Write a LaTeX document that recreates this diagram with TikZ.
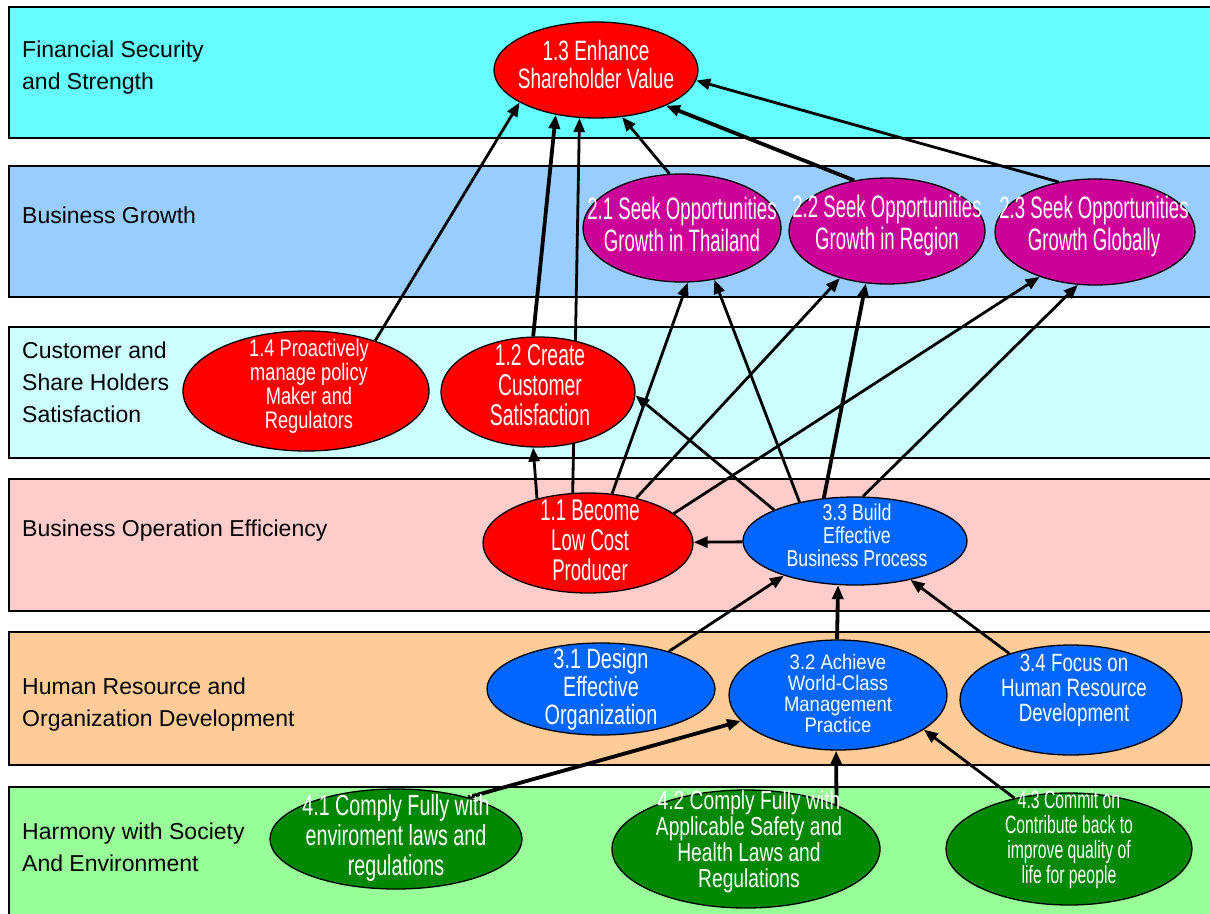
\documentclass[tikz,border=0pt]{standalone}
\usepackage{fontspec}
\setmainfont{Liberation Sans}
\usetikzlibrary{arrows.meta,shapes.geometric}
\pgfdeclarelayer{bg}
\pgfdeclarelayer{edges}
\pgfsetlayers{bg,edges,main}
\definecolor{bandA}{HTML}{66FFFF}
\definecolor{bandB}{HTML}{99CCFF}
\definecolor{bandC}{HTML}{CCFFFF}
\definecolor{bandD}{HTML}{FFCCCC}
\definecolor{bandE}{HTML}{FFCC99}
\definecolor{bandF}{HTML}{99FF99}
\definecolor{ovRed}{HTML}{FF0000}
\definecolor{ovMag}{HTML}{CC0099}
\definecolor{ovBlue}{HTML}{0066FF}
\definecolor{ovGreen}{HTML}{008800}
\newcommand\ofont[3]{\fontspec[FakeStretch=#1]{Liberation Sans}\fontsize{#2}{#3}\selectfont}
\tikzset{
  band/.style={draw=black, line width=1.3pt},
  bandlabel/.style={anchor=west, align=left, font=\fontsize{23}{32}\selectfont, inner sep=0pt},
  oval/.style={ellipse, draw=black, line width=1.3pt, inner sep=0pt},
  otext/.style={text=white, align=center, inner sep=0pt},
  link/.style={draw=black, line width=2.8pt, -{Triangle[length=14pt,width=11pt]}},
  biglink/.style={link, line width=3.8pt},
}
\begin{document}
\begin{tikzpicture}[x=1pt,y=-1pt]
\useasboundingbox (0,0) rectangle (1210,913);
\begin{pgfonlayer}{bg}
  \fill[white] (0,0) rectangle (1210,913);
  \draw[band, fill=bandA] (9,7) rectangle (1222,138);
  \draw[band, fill=bandB] (9,166) rectangle (1222,297);
  \draw[band, fill=bandC] (9,327) rectangle (1222,458);
  \draw[band, fill=bandD] (9,479) rectangle (1222,611);
  \draw[band, fill=bandE] (9,632) rectangle (1222,765);
  \draw[band, fill=bandF] (9,787) rectangle (1222,925);
\end{pgfonlayer}
% band labels
\node[bandlabel] (lab1) at (22,68) {Financial Security\\and Strength};
\node[bandlabel] (lab2) at (22,215) {Business Growth};
\node[bandlabel] (lab3) at (22,382) {Customer and\\Share Holders\\Satisfaction};
\node[bandlabel] (lab4) at (22,531) {Business Operation Efficiency};
\node[bandlabel] (lab5) at (22,705) {Human Resource and\\Organization Development};
\node[bandlabel] (lab6) at (22,847) {Harmony with Society\\And Environment};
% ellipses
\node[oval, fill=ovRed, minimum width=204pt, minimum height=96pt] (e13) at (596,70) {};
\node[oval, fill=ovMag, minimum width=198pt, minimum height=108pt] (e21) at (682,228) {};
\node[oval, fill=ovMag, minimum width=196pt, minimum height=106pt] (e22) at (887,231) {};
\node[oval, fill=ovMag, minimum width=200pt, minimum height=106pt] (e23) at (1095,232) {};
\node[oval, fill=ovRed, minimum width=246pt, minimum height=120pt] (e14) at (306,391) {};
\node[oval, fill=ovRed, minimum width=194pt, minimum height=110pt] (e12) at (538,392) {};
\node[oval, fill=ovRed, minimum width=210pt, minimum height=100pt] (e11) at (588,543) {};
\node[oval, fill=ovBlue, minimum width=224pt, minimum height=88pt] (e33) at (855,541) {};
\node[oval, fill=ovBlue, minimum width=228pt, minimum height=92pt] (e31) at (601,689) {};
\node[oval, fill=ovBlue, minimum width=218pt, minimum height=110pt] (e32) at (838,695) {};
\node[oval, fill=ovBlue, minimum width=222pt, minimum height=110pt] (e34) at (1071,700) {};
\node[oval, fill=ovGreen, minimum width=252pt, minimum height=100pt] (e41) at (396,839) {};
\node[oval, fill=ovGreen, minimum width=268pt, minimum height=118pt] (e42) at (746,849) {};
\node[oval, fill=ovGreen, minimum width=246pt, minimum height=112pt] (e43) at (1069,849) {};
% ellipse texts
\node[otext, font={\ofont{0.68}{28}{28}}] (t13) at (596,64) {1.3 Enhance\\Shareholder Value};
\node[otext, font={\ofont{0.6}{31}{32}}] (t21) at (682,224) {2.1 Seek Opportunities\\Growth in Thailand};
\node[otext, font={\ofont{0.6}{31}{32}}] (t22) at (887,225) {2.2 Seek Opportunities\\Growth in Region};
\node[otext, font={\ofont{0.6}{31}{32}}] (t23) at (1094,226) {2.3 Seek Opportunities\\Growth Globally};
\node[otext, font={\ofont{0.76}{24}{24}}] (t14) at (309,386) {1.4 Proactively\\manage policy\\Maker and\\Regulators};
\node[otext, font={\ofont{0.645}{30}{30}}] (t12) at (540,385) {1.2 Create\\Customer\\Satisfaction};
\node[otext, font={\ofont{0.62}{30}{30}}] (t11) at (590,540) {1.1 Become\\Low Cost\\Producer};
\node[otext, font={\ofont{0.77}{23}{23}}] (t33) at (857,535) {3.3 Build\\Effective\\Business Process};
\node[otext, font={\ofont{0.71}{28}{28}}] (t31) at (601,689) {3.1 Design\\Effective\\Organization};
\node[otext, font={\ofont{0.88}{21}{21}}] (t32) at (838,693) {3.2 Achieve\\World-Class\\Management\\Practice};
\node[otext, font={\ofont{0.75}{25}{25}}] (t34) at (1074,690) {3.4 Focus on\\Human Resource\\Development};
\node[otext, font={\ofont{0.68}{29}{30}}] (t41) at (396,838) {4.1 Comply Fully with\\enviroment laws and\\regulations};
\node[otext, font={\ofont{0.74}{26}{26}}] (t42) at (749,842) {4.2 Comply Fully with\\Applicable Safety and\\Health Laws and\\Regulations};
\node[otext, font={\ofont{0.63}{25}{25}}] (t43) at (1069,840) {4.3 Commit on\\Contribute back to\\improve quality of\\life for people};
% connectors
\begin{pgfonlayer}{edges}
  \draw[link] (e14.36) -- (e13.203);
  \draw[biglink] (e12.95) -- (e13.228);
  \draw[link] (e11.107) -- (e13.251);
  \draw[link] (e11.139) -- (e12.265);
  \draw[link] (e21.103) -- (e13.299);
  \draw[biglink] (e22.123) -- (e13.333);
  \draw[link] (e23.126) -- (e13.354);
  \draw[link] (e11.64) -- (e21.276);
  \draw[link] (e11.43) -- (e22.225);
  \draw[link] (e11.19) -- (e23.219);
  \draw[link] (e33.145) -- (e21.302);
  \draw[biglink] (e33.126) -- (e22.248);
  \draw[link] (e33.80) -- (e23.252);
  \draw[link] (e33.159) -- (e12.358);
  \draw[link] (e33) -- (e11);
  \draw[link] (e31.29) -- (e33.206);
  \draw[biglink] (e32.91) -- (e33.249);
  \draw[link] (e34.143) -- (e33.325);
  \draw[biglink] (e41.30) -- (e32.195);
  \draw[biglink] (e42.26) -- (e32.268);
  \draw[link] (e43.137) -- (e32.338);
\end{pgfonlayer}
\end{tikzpicture}
\end{document}
